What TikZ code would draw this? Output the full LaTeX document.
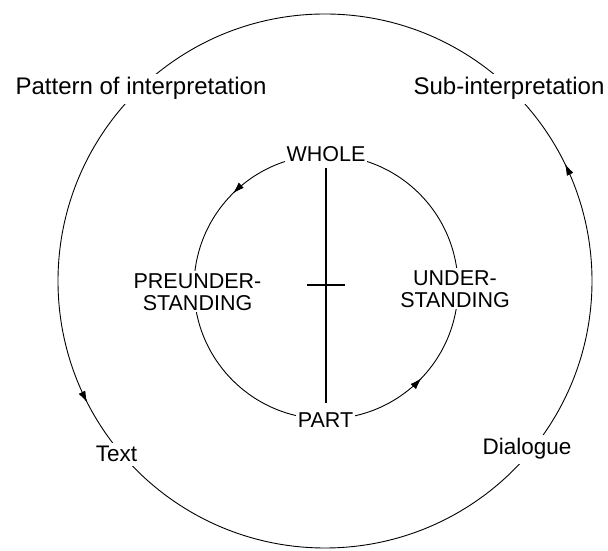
\documentclass[tikz,border=0pt]{standalone}
\usepackage{fontspec}
\setmainfont{Liberation Sans}
\usetikzlibrary{arrows.meta,decorations.markings}
\begin{document}
\begin{tikzpicture}[x=1pt,y=1pt,
  ring/.style={line width=0.9pt},
  flowmark/.style={postaction={decorate},decoration={markings,
     mark=at position #1 with {\arrow{Latex[length=11pt,width=7pt]}}}},
  outerlbl/.style={fill=white,inner sep=4pt,anchor=base,
     font=\fontsize{24}{26}\selectfont},
  smallouter/.style={outerlbl,font=\fontsize{22.5}{24}\selectfont},
  innerlbl/.style={fill=white,inner sep=2pt,align=center,
     font=\fontsize{21.5}{22}\selectfont},
  axis/.style={line width=1.2pt}
]
\useasboundingbox (0,0) rectangle (608,551);

% outer circle
\draw[ring,flowmark=0.072,flowmark=0.575] (325,270) circle[radius=267];
% inner circle
\draw[ring,flowmark=0.374,flowmark=0.878] (326,264) circle[radius=132];

% outer labels
\node[outerlbl] (pattern) at (141,456) {Pattern of interpretation};
\node[outerlbl] (sub) at (509,456) {Sub-interpretation};
\node[smallouter] (text) at (116.5,89) {Text};
\node[smallouter] (dialogue) at (527,96) {Dialogue};

% inner labels
\node[innerlbl,anchor=base] (whole) at (326,389) {WHOLE};
\node[innerlbl,anchor=base] (part) at (325.5,123) {PART};
\node[innerlbl] (pre) at (197.5,259) {PREUNDER-\\STANDING};
\node[innerlbl] (und) at (455,262) {UNDER-\\STANDING};

% axis and cross
\draw[axis,shorten <=4pt,shorten >=8pt] (whole.south -| 326,0) -- (part.north -| 326,0);
\coordinate (crossl) at (307,266);
\coordinate (crossr) at (345,266);
\draw[line width=1.1pt] (crossl) -- (crossr);
\end{tikzpicture}
\end{document}
